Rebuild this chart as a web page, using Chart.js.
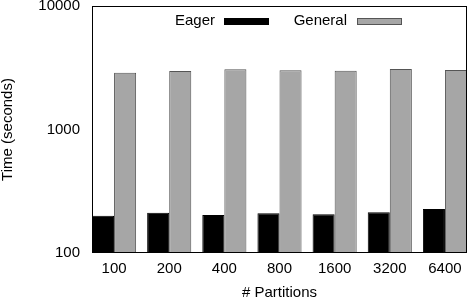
<!DOCTYPE html>
<html>
<head>
<meta charset="utf-8">
<script src="https://cdn.jsdelivr.net/npm/chart.js@4/dist/chart.umd.min.js"></script>
<style>
html,body{margin:0;padding:0;background:#fff;}
canvas{display:block;}
</style>
</head>
<body>
<canvas id="c" width="469" height="302"></canvas>
<script>
const categories = ['100', '200', '400', '800', '1600', '3200', '6400'];
const eagerValues = [200, 212, 203, 210, 206, 214, 227];
const generalValues = [2884, 2977, 3071, 3016, 2994, 3090, 3033];
const yTickValues = [100, 1000, 10000];
const seriesNames = ['Eager', 'General'];

const FONT = '"Liberation Sans", Arial, Helvetica, sans-serif';
Chart.defaults.font.family = FONT;
Chart.defaults.font.size = 15;
Chart.defaults.color = '#000';

const toXY = arr => arr.map((v, i) => ({x: i, y: v}));

const framePlugin = {
  id: 'frame',
  afterDatasetsDraw(chart) {
    const {ctx, chartArea: a} = chart;
    ctx.save();
    ctx.strokeStyle = '#000';
    ctx.lineWidth = 1;
    const l = Math.round(a.left) + 0.5, t = Math.round(a.top) + 0.5;
    const r = Math.round(a.right) - 0.5, b = Math.round(a.bottom) - 0.5;
    ctx.strokeRect(l, t, r - l, b - t);
    ctx.restore();
  }
};

const legendPlugin = {
  id: 'gnuLegend',
  afterDraw(chart) {
    const {ctx, chartArea: a} = chart;
    const items = [
      {textRight: a.left + 123, boxLeft: a.left + 132},
      {textRight: a.left + 255, boxLeft: a.left + 265}
    ];
    ctx.save();
    ctx.font = '15px ' + FONT;
    ctx.textAlign = 'right';
    ctx.textBaseline = 'middle';
    chart.data.datasets.forEach((ds, i) => {
      const it = items[i];
      const cy = a.top + 15;
      ctx.fillStyle = '#000';
      ctx.fillText(ds.label, it.textRight, cy);
      ctx.fillStyle = ds.backgroundColor;
      ctx.fillRect(it.boxLeft, Math.round(cy - 3.5), 45, 7);
      ctx.strokeStyle = ds.borderColor;
      ctx.lineWidth = 1;
      ctx.strokeRect(it.boxLeft + 0.5, Math.round(cy - 3.5) + 0.5, 44, 6);
    });
    ctx.restore();
  }
};

new Chart(document.getElementById('c'), {
  type: 'bar',
  data: {
    datasets: [
      {label: seriesNames[0], data: toXY(eagerValues), backgroundColor: '#000000', borderColor: '#000000', borderWidth: 1},
      {label: seriesNames[1], data: toXY(generalValues), backgroundColor: '#a6a6a6', borderColor: '#555555', borderWidth: 1}
    ]
  },
  options: {
    responsive: false,
    devicePixelRatio: 1,
    animation: false,
    categoryPercentage: 0.8,
    barPercentage: 1.0,
    layout: {padding: {left: 0, right: 2, top: 6, bottom: 0}},
    plugins: {legend: {display: false}, tooltip: {enabled: false}},
    scales: {
      x: {
        type: 'linear',
        offset: false,
        min: -0.4,
        max: 6.4,
        grid: {display: false, drawTicks: false},
        border: {display: false},
        afterBuildTicks: (axis) => { axis.ticks = categories.map((c, i) => ({value: i})); },
        ticks: {padding: 7, autoSkip: false, maxRotation: 0, callback: (v) => categories[v] ?? ''},
        title: {display: true, text: '# Partitions', font: {size: 15, lineHeight: 1.2}, padding: {top: 0, bottom: 0}},
        afterFit: (s) => { s.height = 49; s.paddingLeft = 0; s.paddingRight = 0; }
      },
      y: {
        type: 'logarithmic',
        min: 100,
        max: 10000,
        grid: {display: false, drawTicks: false},
        border: {display: false},
        afterBuildTicks: (axis) => { axis.ticks = yTickValues.map(v => ({value: v})); },
        ticks: {padding: 12, callback: (v) => String(v)},
        title: {display: true, text: 'Time (seconds)', font: {size: 15, lineHeight: 1}, padding: {top: 0, bottom: 0}},
        afterFit: (s) => { s.width = 92; s.paddingTop = 0; s.paddingBottom = 0; }
      }
    }
  },
  plugins: [framePlugin, legendPlugin]
});
</script>
</body>
</html>
